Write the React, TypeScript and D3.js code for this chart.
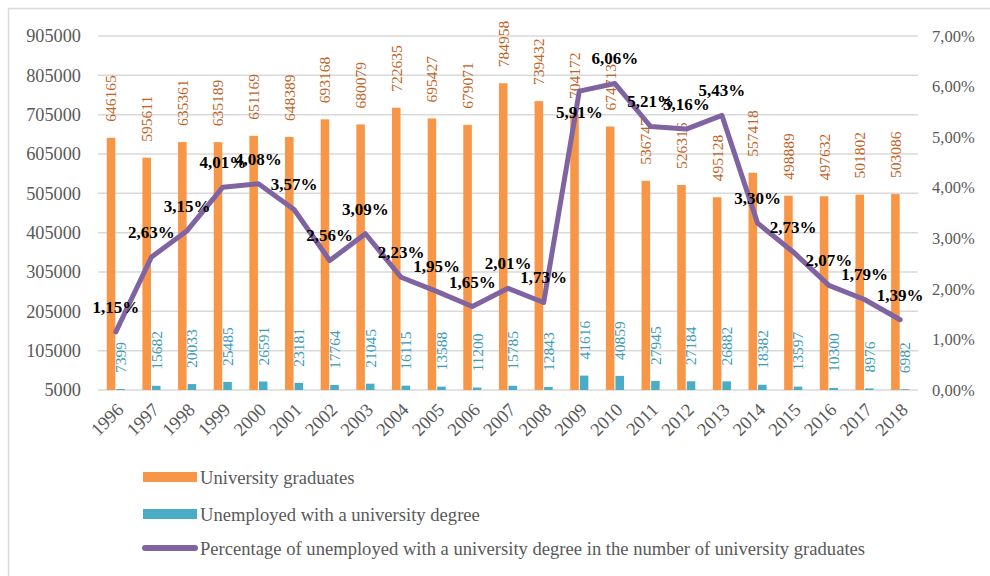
import React from "react";
import * as d3 from "d3";

const years = ["1996", "1997", "1998", "1999", "2000", "2001", "2002", "2003", "2004", "2005", "2006", "2007", "2008", "2009", "2010", "2011", "2012", "2013", "2014", "2015", "2016", "2017", "2018"];
const graduates = [646165, 595611, 635361, 635189, 651169, 648389, 693168, 680079, 722635, 695427, 679071, 784958, 739432, 704172, 674713, 536747, 526316, 495128, 557418, 498889, 497632, 501802, 503086];
const unemployed = [7399, 15682, 20033, 25485, 26591, 23181, 17764, 21045, 16115, 13588, 11200, 15785, 12843, 41616, 40859, 27945, 27184, 26882, 18382, 13597, 10300, 8976, 6982];
const percent = [1.15, 2.63, 3.15, 4.01, 4.08, 3.57, 2.56, 3.09, 2.23, 1.95, 1.65, 2.01, 1.73, 5.91, 6.06, 5.21, 5.16, 5.43, 3.30, 2.73, 2.07, 1.79, 1.39];
const leftTicks = [5000, 105000, 205000, 305000, 405000, 505000, 605000, 705000, 805000, 905000];
const rightTicks = [0, 1, 2, 3, 4, 5, 6, 7];
const legendItems = ["University graduates", "Unemployed with a university degree", "Percentage of unemployed with a university degree in the number of university graduates"];

const W = 990;
const H = 576;
const FONT = '"Liberation Serif", "Times New Roman", serif';
const ORANGE = "#f79646";
const TEAL = "#4bacc6";
const PURPLE = "#8064a2";
const GRID = "#d9d9d9";
const AXIS_TEXT = "#595959";

const comma = (v: number) => v.toFixed(2).replace(".", ",");

export default function App() {
  const x = d3.scaleBand<string>().domain(years).range([98, 918]).paddingInner(0);
  const yL = d3.scaleLinear().domain([5000, 905000]).range([390, 36]);
  const yR = d3.scaleLinear().domain([0, 7]).range([390, 36]);
  const bw = x.bandwidth();
  const barW = bw * 0.24;
  const cx = (i: number) => (x(years[i]) as number) + bw / 2;

  const line = d3
    .line<number>()
    .x((_, i) => cx(i))
    .y((d) => yR(d));

  return (
    <svg width={W} height={H} style={{ position: "absolute", left: 0, top: 0, background: "#fff" }} fontFamily={FONT}>
      <rect x={8.5} y={8.5} width={W + 20} height={H + 20} fill="#fff" stroke={GRID} strokeWidth={1.5} />

      {/* gridlines */}
      {leftTicks.map((t) => (
        <line key={t} x1={98} x2={918} y1={yL(t)} y2={yL(t)} stroke={GRID} strokeWidth={1.5} />
      ))}

      {/* left axis */}
      {leftTicks.map((t) => (
        <text key={t} x={81} y={yL(t)} dy="0.35em" textAnchor="end" fontSize={18.3} fill={AXIS_TEXT}>
          {t}
        </text>
      ))}

      {/* right axis */}
      {rightTicks.map((t) => (
        <text key={t} x={932} y={yR(t)} dy="0.35em" textAnchor="start" fontSize={16.5} fill={AXIS_TEXT}>
          {comma(t) + "%"}
        </text>
      ))}

      {/* x axis labels */}
      {years.map((yr, i) => (
        <text
          key={yr}
          transform={`translate(${cx(i) + 1},${403}) rotate(-45)`}
          textAnchor="end"
          dy="0.6em"
          fontSize={18.5}
          fill={AXIS_TEXT}
        >
          {yr}
        </text>
      ))}

      {/* bars */}
      {graduates.map((v, i) => (
        <rect key={"g" + i} x={cx(i) - barW - 0.5} y={yL(v)} width={barW} height={yL(5000) - yL(v)} fill={ORANGE} />
      ))}
      {unemployed.map((v, i) => (
        <rect key={"u" + i} x={cx(i) + 0.5} y={yL(v)} width={barW} height={Math.max(0, yL(5000) - yL(v))} fill={TEAL} />
      ))}

      {/* bar labels */}
      {graduates.map((v, i) => {
        const bx = cx(i) - barW / 2 - 0.5;
        const by = yL(v) - 16;
        return (
          <text key={"gl" + i} transform={`translate(${bx},${by}) rotate(-90)`} dy="0.35em" fontSize={15.5} fill="#c0631f">
            {v}
          </text>
        );
      })}
      {unemployed.map((v, i) => {
        const bx = cx(i) + barW / 2 + 0.5;
        const by = Math.min(yL(v), 390) - 16;
        return (
          <text key={"ul" + i} transform={`translate(${bx},${by}) rotate(-90)`} dy="0.35em" fontSize={15.5} fill="#3b9cb8">
            {v}
          </text>
        );
      })}

      {/* line */}
      <path d={line(percent) || ""} fill="none" stroke={PURPLE} strokeWidth={5} strokeLinejoin="round" strokeLinecap="round" />

      {/* percent labels */}
      {percent.map((p, i) => {
        const below = i > 0 && p > percent[i - 1] + 2;
        return (
          <text
            key={"p" + i}
            x={cx(i)}
            y={yR(p) + (below ? 21 : -25)}
            dy="0.35em"
            textAnchor="middle"
            fontSize={17}
            fontWeight="bold"
            fill="#000"
          >
            {comma(p) + "%"}
          </text>
        );
      })}

      {/* legend */}
      {legendItems.map((label, i) => {
        const ly = [477, 514, 548][i];
        return (
          <g key={label}>
            {i < 2 ? (
              <rect x={143} y={ly - 5} width={54} height={10} fill={i === 0 ? ORANGE : TEAL} />
            ) : (
              <line x1={145} x2={195} y1={ly} y2={ly} stroke={PURPLE} strokeWidth={6} strokeLinecap="round" />
            )}
            <text x={200} y={ly} dy="0.35em" fontSize={18.6} fill={AXIS_TEXT}>
              {label}
            </text>
          </g>
        );
      })}
    </svg>
  );
}
